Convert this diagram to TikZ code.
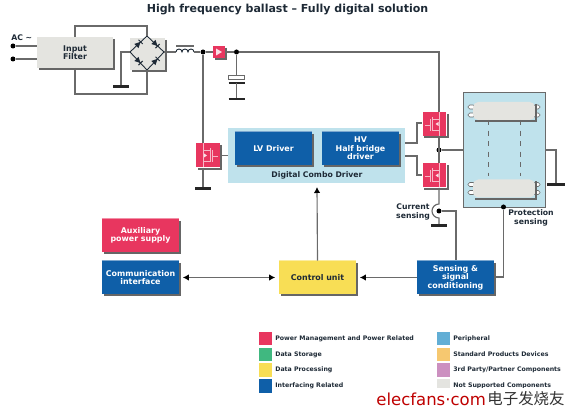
\documentclass[tikz,border=0pt]{standalone}
\usepackage{fontspec}
\setmainfont{DejaVu Sans}
\newfontfamily\cjk{Noto Sans CJK SC}
\usetikzlibrary{arrows.meta}
\definecolor{rot}{HTML}{E8365F}
\definecolor{blau}{HTML}{0F5FA8}
\definecolor{gelb}{HTML}{F8DE55}
\definecolor{hblau}{HTML}{BFE2EC}
\definecolor{hgrau}{HTML}{E4E4E0}
\definecolor{grau}{HTML}{6A6A6A}
\definecolor{dunkel}{HTML}{1E2A36}
\definecolor{legd}{HTML}{40B880}
\definecolor{legp}{HTML}{62AED5}
\definecolor{legs}{HTML}{F6C870}
\definecolor{legt}{HTML}{CC90C0}
\tikzset{
  block/.style={minimum width=1.54cm,minimum height=0.66cm,inner sep=0pt,align=center,
    font=\bfseries\fontsize{4.5}{4.9}\selectfont},
  blockb/.style={block,fill=blau,text=white},
  blockr/.style={block,fill=rot,text=white},
  blocky/.style={block,fill=gelb,text=dunkel},
  mosbox/.style={block,fill=rot,minimum width=0.48cm,minimum height=0.48cm},
  lamp/.style={block,fill=hgrau,rounded corners=3pt,minimum width=1.24cm,minimum height=0.36cm},
  dot/.style={circle,fill=black,inner sep=0pt,minimum size=0.1cm},
  wire/.style={grau,line width=0.65pt},
  earth/.style={black!85,line width=1.5pt},
  tip/.style={{Latex[length=1.2mm,width=1.3mm,black]}-,grau,line width=0.65pt},
  schatten/.style={black!60,line width=1pt},
  legbox/.style={minimum width=0.27cm,minimum height=0.27cm,inner sep=0pt},
  legtxt/.style={anchor=west,inner sep=0pt,text=dunkel,font=\bfseries\fontsize{3.55}{4}\selectfont},
  lbl/.style={inner sep=0pt,align=center,text=dunkel,font=\bfseries\fontsize{4.4}{4.9}\selectfont},
}

\begin{document}
\begin{tikzpicture}[x=0.02cm,y=-0.02cm]
  \useasboundingbox (0,0) rectangle (579,418);
  \node[lbl,font=\bfseries\fontsize{6.27}{7}\selectfont] (title) at (287.5,10) {High frequency ballast -- Fully digital solution};

  % mains input and bridge
  \node[block,fill=hgrau,text=dunkel,minimum width=1.52cm,minimum height=0.62cm] (filter) at (75,52.5) {Input\\Filter};
  \node[block,fill=hgrau,minimum width=0.7cm,minimum height=0.64cm] (bridge) at (147.5,54) {};
  \node[lbl,anchor=west] (ac) at (11,38) {AC \textasciitilde};
  \node[dot] (acA) at (13,46) {};
  \node[dot] (acB) at (13,59) {};
  \draw[wire] (acA) -- (37,46);
  \draw[wire] (acB) -- (37,59);
  \coordinate (brT) at (147,36);
  \coordinate (brB) at (147,70);
  \coordinate (brL) at (130,52);
  \coordinate (brR) at (164,52);
  \draw[dunkel,line width=0.5pt] (brL) -- (brT) -- (brR) -- (brB) -- cycle;
  \foreach \px/\py/\a in {138.5/44/45,155.5/44/-45,138.5/61/-45,155.5/61/45}{
    \begin{scope}[shift={(\px,\py)},rotate=\a]
      \fill[dunkel] (-3,-3) -- (-3,3) -- (3,0) -- cycle;
      \draw[dunkel,line width=0.6pt] (3,-3) -- (3,3);
    \end{scope}
  }
  \draw[wire] (75,37) -- (75,26) -- (147,26) -- (brT);
  \draw[wire] (75,68) -- (75,94) -- (147,94) -- (brB);
  \draw[wire] (brL) -- (121,52) -- (121,86);
  \draw[earth] (113,86.5) -- (129,86.5);

  % choke and boost stage
  \draw[wire] (brR) -- (176,52);
  \draw[dunkel,line width=0.5pt] (176,52) arc[start angle=180,end angle=360,radius=3]
    arc[start angle=180,end angle=360,radius=3] arc[start angle=180,end angle=360,radius=3];
  \draw[wire] (176,46) -- (194,46);
  \node[dot] (nodeA) at (203,52) {};
  \node[dot] (nodeB) at (236.5,52) {};
  \draw[wire] (194,52) -- (nodeA) -- (nodeB) -- (439,52) -- (439,112);
  \node[block,fill=rot,minimum width=0.24cm,minimum height=0.24cm] (boost) at (219,52) {};
  \fill[white!85!rot] (216,48.5) -- (216,55.5) -- (222,52) -- cycle;
  \draw[wire] (nodeB) -- (236.5,75);
  \draw[grau,fill=white,line width=0.4pt] (228.5,75) rectangle (244.5,79);
  \draw[earth] (228.5,83) -- (244.5,83);
  \draw[wire] (236.5,83) -- (236.5,99);
  \draw[earth] (228.5,99) -- (244.5,99);

  % driver
  \node[fill=hblau,minimum width=3.54cm,minimum height=1.1cm,inner sep=0pt] (combo) at (316.5,155.5) {};
  \node[blockb] (lv) at (273.5,148.5) {LV Driver};
  \node[blockb] (hv) at (360.5,148.5) {HV\\Half\,\,bridge\\driver};
  \node[lbl] (combotxt) at (317,175) {Digital Combo Driver};

  % switches
  \node[mosbox] (mosL) at (208,155.5) {};
  \node[mosbox] (mosH) at (434.5,124) {};
  \node[mosbox] (mosU) at (434.5,175.5) {};
  \foreach \m/\s in {mosL/-1,mosH/1,mosU/1}{
    \begin{scope}[shift={(\m.center)},xscale=\s]
      \draw[white!65!rot,line width=0.4pt] (-10,1) -- (-4,1) (-4,-5) -- (-4,7) (-2,-7) -- (-2,7)
        (-2,-5) -- (5,-5) -- (5,-12) (-2,6) -- (5,6) -- (5,12) (5,-5) -- (5,6);
      \fill[white!85!rot] (1,0) -- (4,-2) -- (4,2) -- cycle;
    \end{scope}
  }
  \draw[wire] (nodeA) -- (203,143);
  \draw[wire] (203,168) -- (203,188);
  \draw[earth] (195,188.5) -- (211,188.5);
  \draw[wire] (mosL.east) -- (combo.west |- mosL.east);
  \draw[wire] (405,143) -- (417,143) -- (417,123) -- (422,123);
  \draw[wire] (405,156) -- (417,156) -- (417,175) -- (422,175);
  \node[dot] (mid) at (439,150) {};
  \draw[wire] (439,136) -- (439,163);

  % lamps
  \node[draw=grau,fill=hblau,line width=0.4pt,minimum width=1.64cm,minimum height=2.3cm,inner sep=0pt] (tube) at (504,149.5) {};
  \foreach \y in {111,188.5}{
    \foreach \yy in {-4,4}{
      \draw[grau,fill=white,rounded corners=1pt,line width=0.35pt] (468,\y+\yy-2) rectangle (475,\y+\yy+2);
      \draw[grau,fill=white,rounded corners=1pt,line width=0.35pt] (533,\y+\yy-2) rectangle (540,\y+\yy+2);
    }
  }
  \node[lamp] (lampT) at (504,111) {};
  \node[lamp] (lampB) at (504,188.5) {};
  \draw[grau,dashed,line width=0.4pt] (488,120) -- (488,176);
  \draw[grau,dashed,line width=0.4pt] (520,120) -- (520,176);
  \draw[wire] (mid) -- (tube.west |- mid);
  \draw[wire] (tube.east |- mid) -- (556,150) -- (556,184);
  \draw[earth] (547,184.5) -- (565,184.5);

  % sensing
  \node[dot] (curdot) at (439,211) {};
  \node[dot] (prodot) at (503.5,207) {};
  \node[lbl] (curtxt) at (413,212) {Current\\sensing};
  \node[lbl] (protxt) at (531,218) {Protection\\sensing};
  \draw[wire] (439,188) -- (439,204) arc[start angle=-90,end angle=-270,radius=7] -- (439,225);
  \draw[earth] (431,225.5) -- (447,225.5);
  \node[blockb] (sense) at (455.5,277.5) {Sensing \&\\signal\\conditioning};
  \draw[wire] (curdot) -- (456,211) -- (456,261);
  \draw[wire] (prodot) -- (503.5,277) -- (494,277);

  % control
  \node[blocky] (ctrl) at (317.5,277.5) {Control unit};
  \node[blockb] (comm) at (140.5,277.5) {Communication\\interface};
  \node[blockr] (aux) at (140.5,235.5) {Auxiliary\\power supply};
  \foreach \b/\c in {lv/blau,hv/blau,sense/blau,comm/blau,aux/rot,ctrl/gelb}{
    \draw[white!45!\c,line width=0.5pt] (\b.north west) -- (\b.north east);
  }
  \foreach \b in {filter,bridge,boost,lv,hv,mosL,mosH,mosU,lampT,lampB,sense,ctrl,comm,aux}{
    \draw[schatten] ([xshift=0.5pt,yshift=-1.2pt]\b.north east) -- ([xshift=0.5pt,yshift=-0.5pt]\b.south east)
      -- ([xshift=1.2pt,yshift=-0.5pt]\b.south west);
  }
  \draw[tip] ([xshift=2pt]ctrl.east) -- (sense.west);
  \draw[tip,{Latex[length=1.2mm,width=1.3mm,black]}-{Latex[length=1.2mm,width=1.3mm,black]}] ([xshift=2pt]comm.east) -- ([xshift=-2pt]ctrl.west);
  \draw[tip] (317,187) -- (ctrl.north);

  % legend
  \foreach \n/\c/\y/\t in {a/rot/338.5/Power Management and Power Related,b/legd/354.5/Data Storage,
      c/gelb/370/Data Processing,d/blau/386/Interfacing Related}{
    \node[legbox,fill=\c] (leg\n) at (265.5,\y) {};
    \node[legtxt] (txt\n) at (275,\y) {\t};
  }
  \foreach \n/\c/\y/\t in {e/legp/338.5/Peripheral,f/legs/354.5/Standard Products Devices,
      g/legt/370/{3rd Party/Partner Components},h/hgrau/386/Not Supported Components}{
    \node[legbox,fill=\c] (leg\n) at (443.5,\y) {};
    \node[legtxt] (txt\n) at (453,\y) {\t};
  }
  \node[fill=white,minimum width=3.9cm,minimum height=0.48cm,inner sep=0pt,anchor=north west] (wmbox) at (374,388) {};
  \node[inner sep=0pt,anchor=west,text=red!75!black,font=\fontsize{9.4}{12}\selectfont] (wm) at (376,399) {elecfans·com};
  \node[inner sep=0pt,anchor=west,text=black!80,font=\cjk\fontsize{8.8}{10}\selectfont] (wmc) at (487,399) {电子发烧友};
\end{tikzpicture}
\end{document}
